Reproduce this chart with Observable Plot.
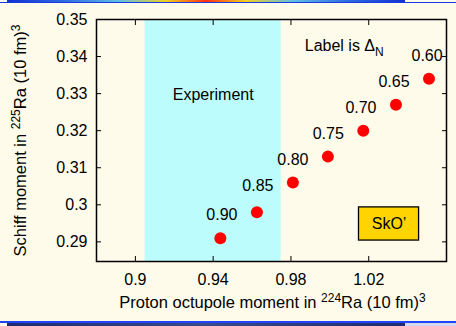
<!DOCTYPE html>
<html><head><meta charset="utf-8">
<script src="https://cdn.jsdelivr.net/npm/d3@7"></script>
<script src="https://cdn.jsdelivr.net/npm/@observablehq/plot@0.6"></script>
<style>
html,body{margin:0;padding:0;background:#fffbea;}
#wrap{position:relative;width:456px;height:326px;overflow:hidden;background:#fffbea;font-family:"Liberation Sans",Arial,sans-serif;}
#wrap svg{position:absolute;left:0;top:0;}
.deco{position:absolute;}
.topgrad{left:7px;top:0;width:398px;height:2px;background:linear-gradient(to right,#1030d0,#3070e0 15%,#60c0e0 28%,#f0d020 40%,#ff3010 50%,#f0d020 60%,#60c0e0 72%,#3070e0 85%,#1030d0);}
.topline{left:0;top:2px;width:456px;height:1px;background:#1838e8;}
.botline{left:0;top:321px;width:456px;height:2px;background:#2244ff;}
.botdark{left:7px;top:323px;width:398px;height:3px;background:linear-gradient(to right,#202a70,#3a4a8a,#202a70);}
.botlight{left:405px;top:323px;width:51px;height:3px;background:#d4d8ee;}
</style>
</head><body>
<div id="wrap"></div>
<script>
// ---- data ----
const xTicks = [0.9, 0.94, 0.98, 1.02];
const yTicks = [0.29, 0.30, 0.31, 0.32, 0.33, 0.34, 0.35];
const octupole = [0.9437, 0.9625, 0.981, 0.999, 1.0172, 1.034, 1.051, 1.068];
const schiff   = [0.291, 0.298, 0.306, 0.313, 0.320, 0.327, 0.334, 0.341];
const deltaN   = [null, "0.90", "0.85", "0.80", "0.75", "0.70", "0.65", "0.60"];
const experimentRange = [0.905, 0.975];
const experimentLabel = ["Experiment"];
const experimentLabelPos = [0.94, 0.3297];
const legendNote = ["Label is ΔN"];
const legendNotePos = [0.9871, 0.3429];
const modelName = ["SkO’"];
const modelBox = [1.015, 1.0459, 0.29035, 0.2993];
const xLabelParts = [["Proton octupole moment in ", ""], ["224", "sup"], ["Ra (10 fm)", ""], ["3", "sup"]];
const yLabelParts = [["Schiff moment in ", ""], ["225", "sup"], ["Ra (10 fm)", ""], ["3", "sup"]];

const points = octupole.map((x, i) => ({x, y: schiff[i], label: deltaN[i]}));
const labelled = points.filter(d => d.label != null);
const fmt = d3.format("~g");

const svg = Plot.plot({
  width: 456, height: 326,
  marginLeft: 96, marginRight: 10, marginTop: 19, marginBottom: 65,
  style: {background: "transparent", fontFamily: "'Liberation Sans', Arial, sans-serif", fontSize: "16px", color: "#000"},
  x: {domain: [0.88, 1.06]},
  y: {domain: [0.2847, 0.35]},
  marks: [
    Plot.rect([experimentRange], {x1: d => d[0], x2: d => d[1], fill: "#bdfcfc"}),
    Plot.text(experimentLabel, {x: experimentLabelPos[0], y: experimentLabelPos[1], text: d => d, fontSize: 16, fill: "#000"}),
    Plot.text(legendNote, {x: legendNotePos[0], y: legendNotePos[1], text: d => d, textAnchor: "start", fontSize: 16, fill: "#000"}),
    Plot.rect([modelBox], {x1: d => d[0], x2: d => d[1], y1: d => d[2], y2: d => d[3], fill: "#ffd400", stroke: "#000", strokeWidth: 1.3}),
    Plot.text(modelName, {x: (modelBox[0] + modelBox[1]) / 2, y: (modelBox[2] + modelBox[3]) / 2, text: d => d, fontSize: 16, fill: "#000"}),
    Plot.dot(points, {x: "x", y: "y", r: 6, fill: "#ff0000", clip: true}),
    Plot.text(labelled, {x: "x", y: "y", text: "label", dx: -35, dy: 3, fontSize: 16, fill: "#000"}),
    Plot.axisX(xTicks, {anchor: "bottom", tickSize: -5, tickPadding: 17, tickFormat: fmt, label: null, stroke: "#000", fill: "#000"}),
    Plot.axisX(xTicks, {anchor: "top", tickSize: -5, tickFormat: () => "", label: null, stroke: "#000"}),
    Plot.axisY(yTicks, {anchor: "left", tickSize: -5, tickPadding: 14, tickFormat: fmt, label: null, stroke: "#000", fill: "#000"}),
    Plot.axisY(yTicks, {anchor: "right", tickSize: -5, tickFormat: () => "", label: null, stroke: "#000"}),
    Plot.frame({stroke: "#000", strokeWidth: 1.5}),
    Plot.text(["xlabel"], {frameAnchor: "bottom", textAnchor: "middle", lineAnchor: "middle", dx: 1, dy: 41, text: d => d, fontSize: 16.5, fill: "#000"}),
    Plot.text(["ylabel"], {frameAnchor: "left", textAnchor: "middle", lineAnchor: "middle", dx: -76, rotate: -90, text: d => d, fontSize: 16.5, fill: "#000"})
  ]
});

function rich(sel, parts) {
  sel.text(null);
  let shift = 0;
  parts.forEach(([s, kind]) => {
    const t = sel.append("tspan").text(s);
    let target = kind === "sup" ? -6 : kind === "sub" ? 5 : 0;
    if (target !== shift) t.attr("dy", target - shift);
    if (kind) t.attr("font-size", "12px");
    shift = target;
  });
}
const s = d3.select(svg);
const byText = str => s.selectAll("text").filter(function () { return this.textContent === str; });
rich(byText("xlabel"), xLabelParts);
rich(byText("ylabel"), yLabelParts);
rich(byText(legendNote[0]), [["Label is Δ", ""], ["N", "sub"]]);

const wrap = document.getElementById("wrap");
wrap.appendChild(svg);
["topgrad", "topline", "botline", "botdark", "botlight"].forEach(c => {
  const d = document.createElement("div");
  d.className = "deco " + c;
  wrap.appendChild(d);
});
</script>
</body></html>
